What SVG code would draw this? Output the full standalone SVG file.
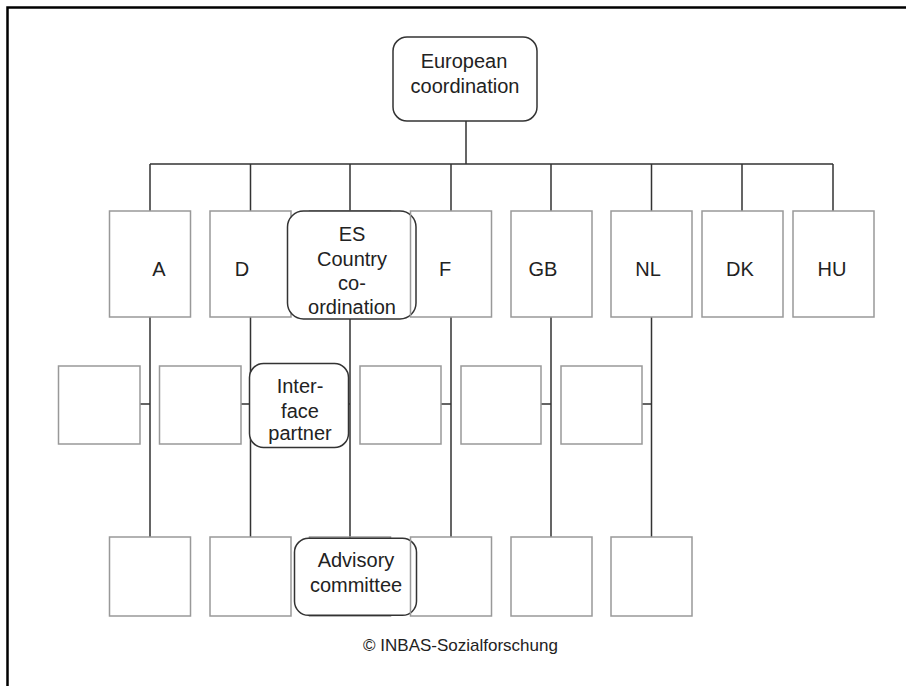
<svg xmlns="http://www.w3.org/2000/svg" width="906" height="686" viewBox="0 0 906 686">
<style>
text{font-family:"Liberation Sans",Arial,sans-serif;font-size:20px;fill:#222;text-anchor:middle}
.ln{stroke:#333;stroke-width:1.5;fill:none}
.bx{stroke:#999;stroke-width:1.5;fill:none}
.rb{stroke:#333;stroke-width:1.5;fill:#fff}
.small{font-size:17px}
</style>
<rect width="906" height="686" fill="#fff"/>
<path d="M7.5,686 V7.5 H906" stroke="#000" stroke-width="2.5" fill="none"/>
<g id="connectors">
<path class="ln" d="M466,121 V164 M150,164 H833 M150,164 V211 M250.5,164 V211 M350,164 V211 M451,164 V211 M551,164 V211 M651.5,164 V211 M742,164 V211 M833,164 V211"/>
<path class="ln" d="M150,317 V537 M250.5,317 V537 M350,318.7 V538.3 M451,317 V537 M551,317 V537 M651.5,317 V537"/>
<path class="ln" d="M140,404 H150 M241,404 H250.5 M348,404 H350 M441,404 H451 M541,404 H551 M642,404 H651.5"/>
</g>
<g id="euro"><rect class="rb" x="393" y="37" width="144" height="84" rx="14"/><text x="464" y="68">European</text><text x="465" y="93">coordination</text></g>
<g id="A"><rect class="bx" x="109.5" y="211" width="81" height="106"/><text x="159" y="276">A</text></g>
<g id="D"><rect class="bx" x="210" y="211" width="81" height="106"/><text x="242" y="276">D</text></g>
<g id="ES"><rect class="bx" x="309.5" y="211" width="81" height="106"/><rect class="rb" x="287.5" y="211" width="128.5" height="108" rx="16"/><text x="352" y="241">ES</text><text x="352" y="266">Country</text><text x="352" y="290">co-</text><text x="352" y="314">ordination</text></g>
<g id="F"><rect class="bx" x="410.5" y="211" width="81" height="106"/><text x="445" y="276">F</text></g>
<g id="GB"><rect class="bx" x="511" y="211" width="81" height="106"/><text x="543" y="276">GB</text></g>
<g id="NL"><rect class="bx" x="611" y="211" width="81" height="106"/><text x="648" y="276">NL</text></g>
<g id="DK"><rect class="bx" x="702" y="211" width="81" height="106"/><text x="740" y="276">DK</text></g>
<g id="HU"><rect class="bx" x="793" y="211" width="81" height="106"/><text x="832" y="276">HU</text></g>
<g id="mA"><rect class="bx" x="58.5" y="366" width="81.5" height="78"/></g>
<g id="mD"><rect class="bx" x="159.5" y="366" width="81.5" height="78"/></g>
<g id="interface"><rect class="bx" x="259.5" y="366" width="81" height="78"/><rect class="rb" x="249.5" y="363.5" width="99" height="84" rx="14"/><text x="300" y="393">Inter-</text><text x="300" y="418">face</text><text x="300" y="440">partner</text></g>
<g id="mF"><rect class="bx" x="360" y="366" width="81" height="78"/></g>
<g id="mGB"><rect class="bx" x="461" y="366" width="80" height="78"/></g>
<g id="mNL"><rect class="bx" x="561" y="366" width="81" height="78"/></g>
<g id="bA"><rect class="bx" x="109.5" y="537" width="81" height="79"/></g>
<g id="bD"><rect class="bx" x="210" y="537" width="81" height="79"/></g>
<g id="advisory"><rect class="bx" x="309.5" y="537" width="81" height="79"/><rect class="rb" x="294.5" y="538.3" width="122" height="77" rx="14"/><text x="356" y="567">Advisory</text><text x="356" y="592">committee</text></g>
<g id="bF"><rect class="bx" x="410.5" y="537" width="81" height="79"/></g>
<g id="bGB"><rect class="bx" x="511" y="537" width="81" height="79"/></g>
<g id="bNL"><rect class="bx" x="611" y="537" width="81" height="79"/></g>
<text class="small" x="460.5" y="651">© INBAS-Sozialforschung</text>
</svg>
